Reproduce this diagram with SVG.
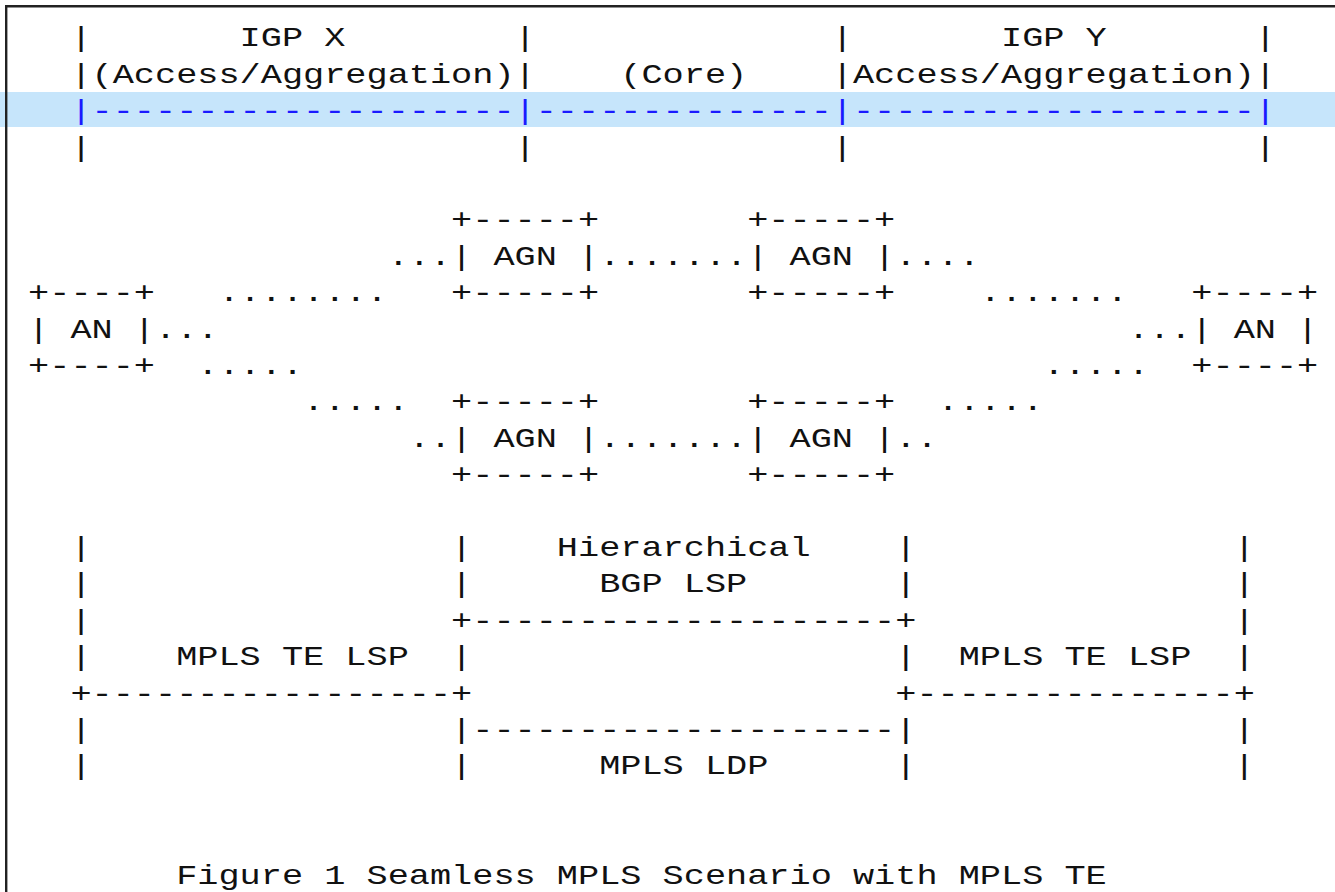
<svg xmlns="http://www.w3.org/2000/svg" width="1335" height="892" viewBox="0 0 1335 892">
<style>
.t { font-family: "Liberation Mono", "DejaVu Sans Mono", monospace; font-size: 27.5px; fill: #111; }
.hl { fill: #1a1aff; }
.border { stroke: #222; stroke-width: 2.4; fill: none; }
</style>
<rect x="0" y="0" width="1335" height="892" fill="#ffffff"/>
<rect x="0" y="92" width="1335" height="35" fill="#c6e5fb"/>
<line class="border" x1="5" y1="6.2" x2="1335" y2="6.2"/>
<line class="border" x1="6.2" y1="5" x2="6.2" y2="892"/>
<g transform="scale(1.28182 1)">
  <g id="domains">
    <text class="t" x="54.92" y="46.5">|</text>
    <text class="t" x="186.92" y="46.5">IGP X</text>
    <text class="t" x="401.42" y="46.5">|</text>
    <text class="t" x="648.92" y="46.5">|</text>
    <text class="t" x="780.92" y="46.5">IGP Y</text>
    <text class="t" x="978.92" y="46.5">|</text>
    <text class="t" x="54.92" y="82.9">|(Access/Aggregation)|</text>
    <text class="t" x="483.92" y="82.9">(Core)</text>
    <text class="t" x="648.92" y="82.9">|Access/Aggregation)|</text>
    <text class="t hl" x="54.92" y="119.3">|--------------------|--------------|-------------------|</text>
    <text class="t" x="54.92" y="155.7">|</text>
    <text class="t" x="401.42" y="155.7">|</text>
    <text class="t" x="648.92" y="155.7">|</text>
    <text class="t" x="978.92" y="155.7">|</text>
  </g>
  <g id="connectors">
    <text class="t" x="302.42" y="264.9">...</text>
    <text class="t" x="467.42" y="264.9">.......</text>
    <text class="t" x="698.42" y="264.9">....</text>
    <text class="t" x="170.42" y="301.3">........</text>
    <text class="t" x="764.42" y="301.3">.......</text>
    <text class="t" x="120.92" y="337.7">...</text>
    <text class="t" x="879.92" y="337.7">...</text>
    <text class="t" x="153.92" y="374.1">.....</text>
    <text class="t" x="813.92" y="374.1">.....</text>
    <text class="t" x="236.42" y="410.5">.....</text>
    <text class="t" x="731.42" y="410.5">.....</text>
    <text class="t" x="318.92" y="446.9">..</text>
    <text class="t" x="467.42" y="446.9">.......</text>
    <text class="t" x="698.42" y="446.9">..</text>
  </g>
  <g id="node-an-x">
    <text class="t" x="21.92" y="301.3">+----+</text>
    <text class="t" x="21.92" y="337.7">| AN |</text>
    <text class="t" x="21.92" y="374.1">+----+</text>
  </g>
  <g id="node-agn-x-top">
    <text class="t" x="351.92" y="228.5">+-----+</text>
    <text class="t" x="351.92" y="264.9">| AGN |</text>
    <text class="t" x="351.92" y="301.3">+-----+</text>
  </g>
  <g id="node-agn-y-top">
    <text class="t" x="582.92" y="228.5">+-----+</text>
    <text class="t" x="582.92" y="264.9">| AGN |</text>
    <text class="t" x="582.92" y="301.3">+-----+</text>
  </g>
  <g id="node-agn-x-bottom">
    <text class="t" x="351.92" y="410.5">+-----+</text>
    <text class="t" x="351.92" y="446.9">| AGN |</text>
    <text class="t" x="351.92" y="483.3">+-----+</text>
  </g>
  <g id="node-agn-y-bottom">
    <text class="t" x="582.92" y="410.5">+-----+</text>
    <text class="t" x="582.92" y="446.9">| AGN |</text>
    <text class="t" x="582.92" y="483.3">+-----+</text>
  </g>
  <g id="node-an-y">
    <text class="t" x="929.42" y="301.3">+----+</text>
    <text class="t" x="929.42" y="337.7">| AN |</text>
    <text class="t" x="929.42" y="374.1">+----+</text>
  </g>
  <g id="lsp-layers">
    <text class="t" x="54.92" y="556.1">|</text>
    <text class="t" x="351.92" y="556.1">|</text>
    <text class="t" x="434.42" y="556.1">Hierarchical</text>
    <text class="t" x="698.42" y="556.1">|</text>
    <text class="t" x="962.42" y="556.1">|</text>
    <text class="t" x="54.92" y="592.5">|</text>
    <text class="t" x="351.92" y="592.5">|</text>
    <text class="t" x="467.42" y="592.5">BGP LSP</text>
    <text class="t" x="698.42" y="592.5">|</text>
    <text class="t" x="962.42" y="592.5">|</text>
    <text class="t" x="54.92" y="628.9">|</text>
    <text class="t" x="351.92" y="628.9">+--------------------+</text>
    <text class="t" x="962.42" y="628.9">|</text>
    <text class="t" x="54.92" y="665.3">|</text>
    <text class="t" x="137.42" y="665.3">MPLS TE LSP</text>
    <text class="t" x="351.92" y="665.3">|</text>
    <text class="t" x="698.42" y="665.3">|</text>
    <text class="t" x="747.92" y="665.3">MPLS TE LSP</text>
    <text class="t" x="962.42" y="665.3">|</text>
    <text class="t" x="54.92" y="701.7">+-----------------+</text>
    <text class="t" x="698.42" y="701.7">+---------------+</text>
    <text class="t" x="54.92" y="738.1">|</text>
    <text class="t" x="351.92" y="738.1">|--------------------|</text>
    <text class="t" x="962.42" y="738.1">|</text>
    <text class="t" x="54.92" y="774.5">|</text>
    <text class="t" x="351.92" y="774.5">|</text>
    <text class="t" x="467.42" y="774.5">MPLS LDP</text>
    <text class="t" x="698.42" y="774.5">|</text>
    <text class="t" x="962.42" y="774.5">|</text>
  </g>
  <g id="caption">
    <text class="t" x="137.42" y="883.7">Figure 1 Seamless MPLS Scenario with MPLS TE</text>
  </g>
</g>
</svg>
